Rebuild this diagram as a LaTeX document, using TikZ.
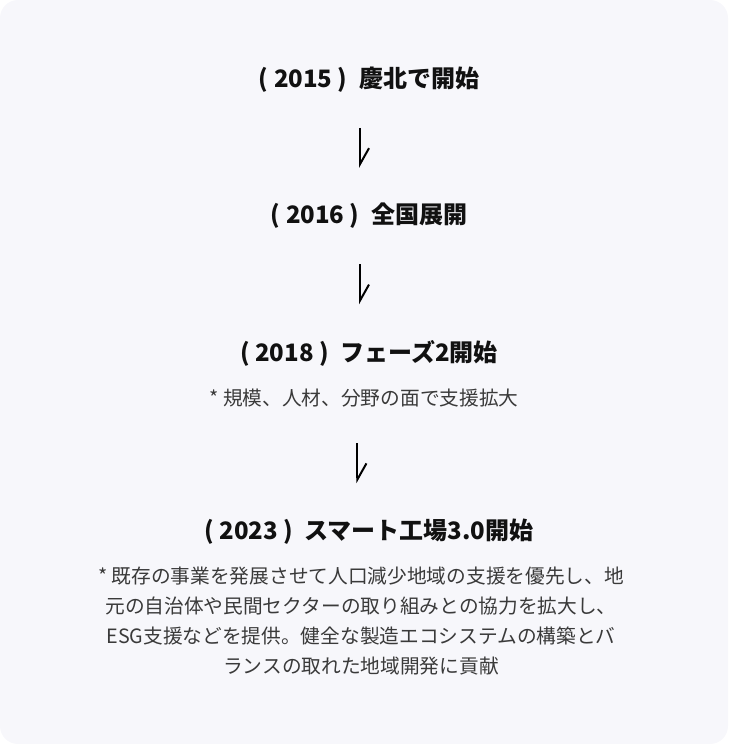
\documentclass[tikz,border=0pt]{standalone}
\usepackage{fontspec}
\setmainfont{Noto Sans CJK JP}
\usetikzlibrary{arrows.meta,positioning}
\definecolor{bgcol}{HTML}{F7F7FB}
\definecolor{titlecol}{HTML}{111111}
\definecolor{notecol}{HTML}{3A3A3A}

\begin{document}
\begin{tikzpicture}[x=1pt,y=-1pt,node distance=136pt,
	year node/.style={font=\fontsize{24}{28}\selectfont\bfseries,text=titlecol,inner sep=0pt},
	note node/.style={font=\fontsize{19.7}{30}\selectfont,text=notecol,inner sep=0pt,align=center},
	flow/.style={line width=2pt,-{Straight Barb[left,length=16pt,width=18pt]}}]
		\useasboundingbox (0,0) rectangle (728,744);
		\fill[bgcol,rounded corners=18pt] (0,0) rectangle (728,744);
		\node[year node] (1) at (369,80) {( 2015 )\hspace{0.25em} 慶北で開始};
		\node[year node] (2) [below of =1] {( 2016 )\hspace{0.25em} 全国展開};
		\node[year node] (3) [below of =2,node distance=137pt] {( 2018 )\hspace{0.25em} フェーズ2開始};
		\node[note node] (3n) [below of =3,node distance=45pt,xshift=-5pt] {* 規模、人材、分野の面で支援拡大};
		\node[year node] (4) [below of =3n,node distance=134pt,xshift=5pt] {( 2023 )\hspace{0.25em} スマート工場3.0開始};
		\node[note node] (4n) [below of =4,node distance=89pt,xshift=-8pt] {* 既存の事業を発展させて人口減少地域の支援を優先し、地\\
			元の自治体や民間セクターの取り組みとの協力を拡大し、\\
			ESG支援などを提供。健全な製造エコシステムの構築とバ\\
			ランスの取れた地域開発に貢献};
		% arrows between the steps
		\path (1) -- (2) coordinate[midway] (m1)
		(2) -- (3) coordinate[midway] (m2)
		(3n) -- (4) coordinate[midway] (m3);
		\foreach \m in {m1,m2,m3}
		\draw[flow] ([xshift=-9pt,yshift=20pt]\m) -- ([xshift=-9pt,yshift=-20pt]\m);
\end{tikzpicture}
\end{document}
